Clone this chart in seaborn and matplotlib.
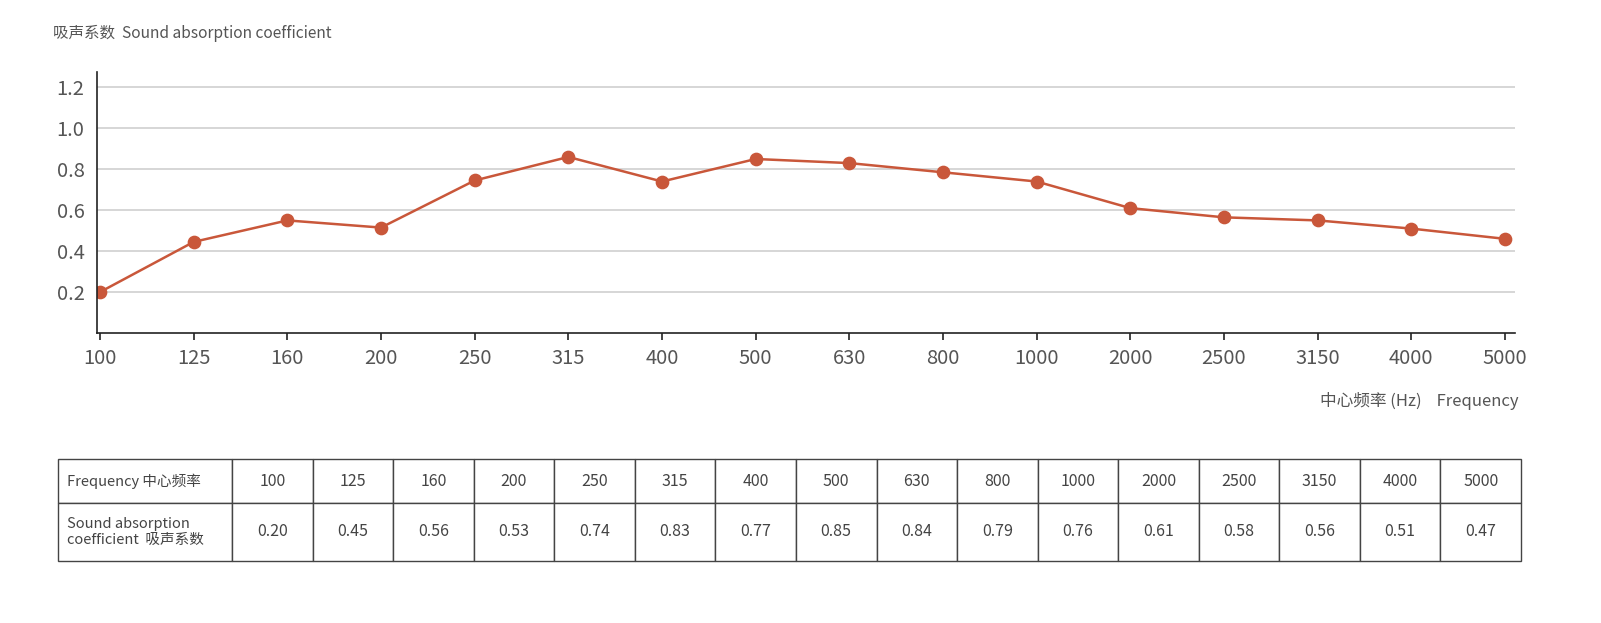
import matplotlib
matplotlib.use("Agg")
import matplotlib.pyplot as plt
import seaborn as sns
import numpy as np

# 频率 / 曲线读数 / 表格数值
freq_labels = ["100", "125", "160", "200", "250", "315", "400", "500",
               "630", "800", "1000", "2000", "2500", "3150", "4000", "5000"]
curve_values = [0.20, 0.445, 0.55, 0.515, 0.745, 0.86, 0.74, 0.85,
                0.83, 0.785, 0.74, 0.61, 0.565, 0.55, 0.51, 0.46]
table_values = ["0.20", "0.45", "0.56", "0.53", "0.74", "0.83", "0.77", "0.85",
                "0.84", "0.79", "0.76", "0.61", "0.58", "0.56", "0.51", "0.47"]
y_ticks = [0.2, 0.4, 0.6, 0.8, 1.0, 1.2]

LINE_COLOR = "#c9573a"
TEXT_GREY = "#555555"

sns.set_theme(style="white")
plt.rcParams["font.family"] = ["Noto Sans CJK SC", "DejaVu Sans"]

W, H = 1601, 623
fig = plt.figure(figsize=(W / 100, H / 100), dpi=100)

# 主图
ax = fig.add_axes([97 / W, 1 - 333 / H, (1515 - 97) / W, (333 - 72) / H])
sns.pointplot(x=freq_labels, y=curve_values, ax=ax, color=LINE_COLOR,
              markers="o", markersize=8.5, linewidth=1.8, errorbar=None)

n = len(freq_labels)
step = (1505 - 100) / (n - 1)
ax.set_xlim(-3 / step, (n - 1) + 10 / step)
ax.set_ylim(0, 1.275)
ax.set_yticks(y_ticks)
ax.set_yticklabels([f"{v:.1f}" for v in y_ticks])
ax.yaxis.grid(True, color="#cccccc", linewidth=1.1)
ax.set_axisbelow(True)
for s in ["top", "right"]:
    ax.spines[s].set_visible(False)
for s in ["left", "bottom"]:
    ax.spines[s].set_color("#222222")
    ax.spines[s].set_linewidth(1.2)
ax.tick_params(axis="x", bottom=True, length=5, width=1.2, color="#222222",
               labelsize=14.5, labelcolor=TEXT_GREY, pad=6)
ax.tick_params(axis="y", left=False, length=0, labelsize=14.5,
               labelcolor=TEXT_GREY, pad=9)
ax.set_xlabel("")
ax.set_ylabel("")

fig.text(53 / W, 1 - 33 / H, "吸声系数  Sound absorption coefficient",
         fontsize=11.2, color=TEXT_GREY, va="center", ha="left")
fig.text(1518 / W, 1 - 401 / H, "中心频率 (Hz)    Frequency",
         fontsize=12, color=TEXT_GREY, va="center", ha="right")

# 表格
tx0, tx1, ty0, ty1 = 58, 1521, 459, 561
tab_ax = fig.add_axes([tx0 / W, 1 - ty1 / H, (tx1 - tx0) / W, (ty1 - ty0) / H])
tab_ax.axis("off")
cells = [["Frequency 中心频率"] + freq_labels,
         ["Sound absorption\ncoefficient  吸声系数"] + table_values]
first_w = 232 - tx0
other_w = (tx1 - 232) / n
col_widths = [first_w] + [other_w] * n
tbl = tab_ax.table(cellText=cells, colWidths=col_widths, loc="center",
                   bbox=[0, 0, 1, 1], cellLoc="center")
tbl.auto_set_font_size(False)
row_h = [44, 58]
for (r, c), cell in tbl.get_celld().items():
    cell.set_height(row_h[r])
    cell.set_edgecolor("#444444")
    cell.set_linewidth(1.0)
    cell.get_text().set_fontsize(10.5 if c == 0 else 11.5)
    cell.get_text().set_color("#444444")
    if c == 0:
        cell.get_text().set_ha("left")
        cell.PAD = 9 / first_w
        cell._loc = "left"

fig.savefig("out.png", dpi=100)
